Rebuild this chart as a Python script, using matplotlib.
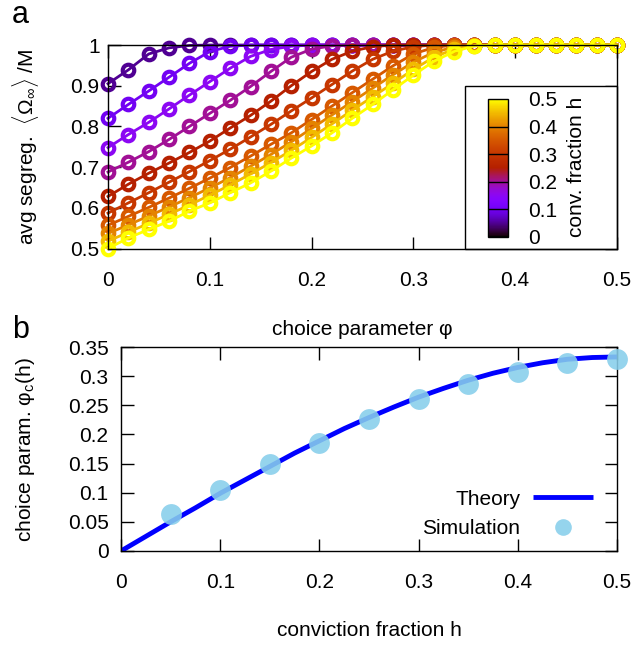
import matplotlib
matplotlib.use("Agg")
import matplotlib.pyplot as plt
from matplotlib.colors import Normalize
from matplotlib.cm import ScalarMappable
from matplotlib.patches import Rectangle

plt.rcParams["font.family"] = ["Liberation Sans", "DejaVu Sans"]
plt.rcParams["mathtext.fontset"] = "custom"
plt.rcParams["mathtext.rm"] = "Liberation Sans"
plt.rcParams["mathtext.it"] = "Liberation Sans:italic"
plt.rcParams["mathtext.bf"] = "Liberation Sans:bold"

# ---- panel a: average segregation vs choice parameter, one curve per conviction fraction
phi = [0.00, 0.02, 0.04, 0.06, 0.08, 0.10, 0.12, 0.14, 0.16, 0.18, 0.20, 0.22, 0.24,
       0.26, 0.28, 0.30, 0.32, 0.34, 0.36, 0.38, 0.40, 0.42, 0.44, 0.46, 0.48, 0.50]

conv_h = [0.05, 0.10, 0.15, 0.20, 0.25, 0.30, 0.35, 0.40, 0.45, 0.50]

seg_h05 = [0.905, 0.939, 0.978, 0.993, 0.999, 1.0, 1.0, 1.0, 1.0, 1.0, 1.0, 1.0, 1.0,
           1.0, 1.0, 1.0, 1.0, 1.0, 1.0, 1.0, 1.0, 1.0, 1.0, 1.0, 1.0, 1.0]
seg_h10 = [0.820, 0.854, 0.887, 0.921, 0.955, 0.984, 0.997, 1.0, 1.0, 1.0, 1.0, 1.0, 1.0,
           1.0, 1.0, 1.0, 1.0, 1.0, 1.0, 1.0, 1.0, 1.0, 1.0, 1.0, 1.0, 1.0]
seg_h15 = [0.748, 0.780, 0.810, 0.843, 0.877, 0.910, 0.943, 0.972, 0.989, 0.997, 1.0, 1.0, 1.0,
           1.0, 1.0, 1.0, 1.0, 1.0, 1.0, 1.0, 1.0, 1.0, 1.0, 1.0, 1.0, 1.0]
seg_h20 = [0.688, 0.712, 0.738, 0.768, 0.800, 0.832, 0.864, 0.898, 0.935, 0.970, 0.990, 0.998, 1.0,
           1.0, 1.0, 1.0, 1.0, 1.0, 1.0, 1.0, 1.0, 1.0, 1.0, 1.0, 1.0, 1.0]
seg_h25 = [0.628, 0.658, 0.685, 0.710, 0.736, 0.764, 0.796, 0.827, 0.862, 0.900, 0.935, 0.965, 0.985,
           0.996, 1.0, 1.0, 1.0, 1.0, 1.0, 1.0, 1.0, 1.0, 1.0, 1.0, 1.0, 1.0]
seg_h30 = [0.587, 0.612, 0.637, 0.663, 0.689, 0.716, 0.744, 0.774, 0.805, 0.838, 0.870, 0.903, 0.936,
           0.965, 0.985, 0.996, 1.0, 1.0, 1.0, 1.0, 1.0, 1.0, 1.0, 1.0, 1.0, 1.0]
seg_h35 = [0.557, 0.579, 0.601, 0.624, 0.648, 0.673, 0.699, 0.727, 0.756, 0.784, 0.817, 0.850, 0.883,
           0.916, 0.949, 0.978, 0.994, 1.0, 1.0, 1.0, 1.0, 1.0, 1.0, 1.0, 1.0, 1.0]
seg_h40 = [0.537, 0.558, 0.580, 0.602, 0.625, 0.649, 0.674, 0.702, 0.731, 0.762, 0.795, 0.828, 0.861,
           0.894, 0.927, 0.958, 0.982, 0.995, 1.0, 1.0, 1.0, 1.0, 1.0, 1.0, 1.0, 1.0]
seg_h45 = [0.518, 0.540, 0.562, 0.584, 0.607, 0.631, 0.656, 0.683, 0.711, 0.741, 0.773, 0.806, 0.840,
           0.873, 0.906, 0.940, 0.970, 0.990, 0.998, 1.0, 1.0, 1.0, 1.0, 1.0, 1.0, 1.0]
seg_h50 = [0.500, 0.526, 0.547, 0.567, 0.592, 0.612, 0.637, 0.661, 0.690, 0.722, 0.752, 0.784, 0.820,
           0.854, 0.890, 0.926, 0.960, 0.984, 0.998, 1.0, 1.0, 1.0, 1.0, 1.0, 1.0, 1.0]

segregation = [seg_h05, seg_h10, seg_h15, seg_h20, seg_h25,
               seg_h30, seg_h35, seg_h40, seg_h45, seg_h50]

# ---- panel b: critical choice parameter vs conviction fraction
h_theory = [0.000, 0.025, 0.050, 0.075, 0.100, 0.125, 0.150, 0.175, 0.200, 0.225, 0.250,
            0.275, 0.300, 0.325, 0.350, 0.375, 0.400, 0.425, 0.450, 0.475, 0.500]
phic_theory = [0.000, 0.025, 0.050, 0.074, 0.099, 0.122, 0.145, 0.168, 0.189, 0.210, 0.229,
               0.247, 0.264, 0.279, 0.293, 0.305, 0.315, 0.323, 0.329, 0.332, 0.333]

h_sim = [0.05, 0.10, 0.15, 0.20, 0.25, 0.30, 0.35, 0.40, 0.45, 0.50]
phic_sim = [0.063, 0.104, 0.150, 0.185, 0.226, 0.260, 0.286, 0.307, 0.323, 0.329]

FS = 15

fig = plt.figure(figsize=(6.33, 6.46), dpi=100)
ax1 = fig.add_axes([0.1706, 0.6153, 0.8041, 0.3150])
ax2 = fig.add_axes([0.1912, 0.1471, 0.7835, 0.3157])

cmap = plt.get_cmap("gnuplot")
norm = Normalize(vmin=0.0, vmax=0.5)

for h, vals in zip(conv_h, segregation):
    ax1.plot(phi, vals, color=cmap(norm(h)), lw=2.0, marker="o", ms=8.3,
             mfc="none", mew=3.0, clip_on=False)

ax1.set_xlim(0, 0.5)
ax1.set_ylim(0.5, 1.0)
ax1.set_xticks([0, 0.1, 0.2, 0.3, 0.4, 0.5])
ax1.set_xticklabels(["0", "0.1", "0.2", "0.3", "0.4", "0.5"])
ax1.set_yticks([0.5, 0.6, 0.7, 0.8, 0.9, 1.0])
ax1.set_yticklabels(["0.5", "0.6", "0.7", "0.8", "0.9", "1"])
ax1.tick_params(axis="both", direction="in", length=9, width=1, top=True, right=True,
                labelsize=FS)
ax1.tick_params(axis="x", pad=16)
ax1.tick_params(axis="y", pad=6)
ax1.set_xlabel("choice parameter φ", fontsize=FS, labelpad=22)

# key box holding the colour scale
ax1.add_patch(Rectangle((0.7014, 0.0), 0.2986, 0.7985, transform=ax1.transAxes,
                        facecolor="white", edgecolor="black", lw=1, zorder=2.4,
                        clip_on=False))

cax = fig.add_axes([0.7714, 0.6336, 0.0316, 0.2132])
cb = fig.colorbar(ScalarMappable(norm=norm, cmap=cmap), cax=cax)
cb.set_ticks([0, 0.1, 0.2, 0.3, 0.4, 0.5])
cb.set_ticklabels(["0", "0.1", "0.2", "0.3", "0.4", "0.5"])
cax.tick_params(length=0, pad=14, labelsize=FS)
cb.outline.set_linewidth(1)
for v in [0.1, 0.2, 0.3, 0.4]:
    cax.axhline(v, color="black", lw=1)
fig.text(577 / 633, 1 - 167 / 646, "conv. fraction h", rotation=90,
         ha="center", va="center", fontsize=FS)

fig.text(26 / 633, 1 - 147 / 646,
         r"avg segreg.  $\langle\Omega_\infty\rangle$ /M", rotation=90,
         ha="center", va="center", fontsize=FS)

# panel b
ax2.plot(h_theory, phic_theory, color="#0000ff", lw=3.5, label="Theory",
         solid_capstyle="butt", zorder=2)
ax2.plot(h_sim, phic_sim, linestyle="none", marker="o", ms=15, color="#87ceeb",
         mec="none", alpha=0.88, label="Simulation", clip_on=False, zorder=3)

ax2.set_xlim(0, 0.5)
ax2.set_ylim(0, 0.35)
ax2.set_xticks([0, 0.1, 0.2, 0.3, 0.4, 0.5])
ax2.set_xticklabels(["0", "0.1", "0.2", "0.3", "0.4", "0.5"])
ax2.set_yticks([0, 0.05, 0.1, 0.15, 0.2, 0.25, 0.3, 0.35])
ax2.set_yticklabels(["0", "0.05", "0.1", "0.15", "0.2", "0.25", "0.3", "0.35"])
ax2.tick_params(axis="both", direction="in", length=9, width=1, top=True, right=True,
                labelsize=FS)
ax2.tick_params(axis="x", pad=16)
ax2.tick_params(axis="y", pad=9)
ax2.set_xlabel("conviction fraction h", fontsize=FS, labelpad=21)
fig.text(26 / 633, 1 - 450 / 646, r"choice param. φ$_\mathrm{c}$(h)", rotation=90,
         ha="center", va="center", fontsize=FS)

ax2.legend(loc="lower right", bbox_to_anchor=(0.952, 0.064), frameon=False,
           markerfirst=False, handlelength=2.9, fontsize=FS, labelspacing=0.5,
           handletextpad=0.6, borderpad=0, borderaxespad=0, markerscale=0.8)

for ax in (ax1, ax2):
    for s in ax.spines.values():
        s.set_linewidth(1)

fig.text(0.019, 1 - 23 / 646, "a", fontsize=22, va="baseline", ha="left")
fig.text(0.019, 1 - 338 / 646, "b", fontsize=22, va="baseline", ha="left")

fig.savefig("out.png", dpi=100)
